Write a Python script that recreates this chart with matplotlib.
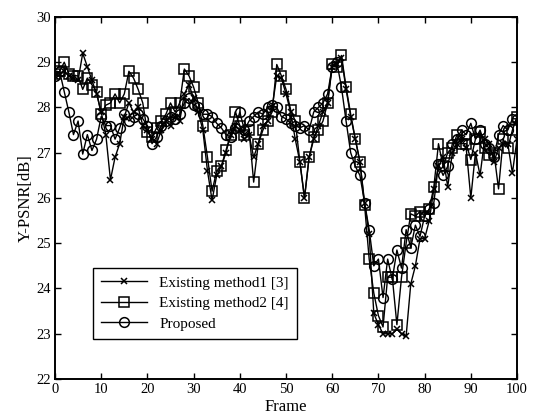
import matplotlib
matplotlib.use("Agg")
import matplotlib.pyplot as plt
import numpy as np

plt.rcParams["font.family"] = ["Liberation Serif", "DejaVu Serif"]
plt.rcParams["font.size"] = 10.5

frames = np.arange(0, 101)

# Existing method1 [3]
method1 = [
    28.7, 28.75, 28.8, 28.7, 28.65, 28.6, 29.2, 28.9, 28.6, 28.3,
    27.9, 27.4, 26.4, 26.9, 27.2, 27.8, 28.1, 27.9, 28.0, 27.6,
    27.5, 27.3, 27.2, 27.5, 27.7, 27.6, 27.8, 27.7, 28.3, 28.5,
    28.2, 27.9, 27.5, 26.6, 25.95, 26.5, 26.7, 27.0, 27.4, 27.6,
    27.5, 27.3, 27.4, 26.9, 27.2, 27.6, 27.7, 28.0, 28.7, 28.65,
    28.3, 27.9, 27.3, 26.8, 26.0, 26.9, 27.3, 27.6, 27.9, 28.1,
    28.9, 28.95, 29.1, 28.4, 27.8, 27.3, 26.8, 25.9, 25.2, 23.45,
    23.2, 23.0, 23.0, 23.0, 23.1, 23.0, 22.95, 24.1, 24.5, 25.1,
    25.1, 25.5, 26.2, 26.7, 26.9, 26.25, 27.0, 27.2, 27.3, 27.1,
    26.0, 27.0, 26.5, 27.3, 27.2, 26.8, 27.1, 27.2, 27.2, 26.55,
    27.3,
]

# Existing method2 [4]
method2 = [
    28.75, 28.8, 29.0, 28.75, 28.7, 28.7, 28.4, 28.65, 28.5, 28.35,
    27.85, 28.05, 28.1, 28.3, 28.1, 28.3, 28.8, 28.65, 28.4, 28.1,
    27.45, 27.35, 27.55, 27.7, 27.85, 28.1, 27.9, 28.1, 28.85, 28.7,
    28.45, 28.1, 27.6, 26.9, 26.15, 26.6, 26.7, 27.05, 27.4, 27.9,
    27.6, 27.4, 27.5, 26.35, 27.2, 27.5, 27.7, 27.9, 28.95, 28.7,
    28.4, 27.95, 27.7, 26.8, 26.0, 26.9, 27.35, 27.5, 27.7, 28.1,
    28.95, 28.9, 29.15, 28.45, 27.85, 27.3, 26.8, 25.85, 24.65, 23.9,
    23.4, 23.15, 24.25, 24.25, 23.2, 24.25, 25.0, 25.65, 25.6, 25.7,
    25.6, 25.75, 26.25, 27.2, 26.7, 27.0, 27.1, 27.4, 27.2, 27.2,
    26.85, 27.3, 27.45, 27.1, 26.95, 27.0, 26.2, 27.3, 27.1, 27.5,
    27.8,
]

# Proposed
proposed = [
    28.7, 28.8, 28.35, 27.9, 27.4, 27.7, 26.97, 27.4, 27.05, 27.3,
    27.8, 27.6, 27.6, 27.3, 27.55, 27.85, 27.7, 27.8, 27.85, 27.75,
    27.6, 27.2, 27.35, 27.6, 27.7, 27.8, 27.75, 27.85, 28.1, 28.2,
    28.05, 28.0, 27.85, 27.85, 27.8, 27.65, 27.55, 27.4, 27.35, 27.55,
    27.9, 27.5, 27.7, 27.8, 27.9, 27.85, 28.0, 28.05, 28.0, 27.8,
    27.75, 27.65, 27.6, 27.55, 27.6, 27.5, 27.9, 28.0, 28.1, 28.3,
    28.9, 29.0, 28.45, 27.7, 27.0, 26.7, 26.5, 25.9, 25.3, 24.5,
    24.65, 23.8, 24.65, 24.2, 24.85, 24.45, 25.3, 24.9, 25.4, 25.15,
    25.6, 25.75, 25.9, 26.75, 26.5, 26.7, 27.2, 27.3, 27.5, 27.4,
    27.65, 27.3, 27.5, 27.2, 27.1, 26.9, 27.4, 27.6, 27.5, 27.75,
    27.75,
]

fig = plt.figure(figsize=(5.36, 4.2), dpi=100)
ax = fig.add_axes([0.1026, 0.0976, 0.862, 0.862])

ax.plot(frames, method1, color="black", lw=1.0, marker="x", ms=4, mew=1.1,
        label="Existing method1 [3]")
ax.plot(frames, method2, color="black", lw=1.0, marker="s", ms=7, mew=1.1,
        mfc="none", label="Existing method2 [4]")
ax.plot(frames, proposed, color="black", lw=1.0, marker="o", ms=7, mew=1.1,
        mfc="none", label="Proposed")

ax.set_xlim(0, 100)
ax.set_ylim(22, 30)
ax.set_xticks(range(0, 101, 10))
ax.set_yticks(range(22, 31))
ax.tick_params(direction="in", top=True, right=True, length=4, width=1, pad=3)
for s in ax.spines.values():
    s.set_linewidth(1.4)

ax.set_xlabel("Frame", fontsize=12, labelpad=2)
ax.set_ylabel("Y-PSNR[dB]", fontsize=12, labelpad=2)

leg = ax.legend(loc="lower left", bbox_to_anchor=(0.082, 0.11), borderaxespad=0,
                fancybox=False, framealpha=1, edgecolor="black",
                handlelength=3.0, fontsize=11, labelspacing=0.45,
                borderpad=0.55)
leg.get_frame().set_linewidth(1.0)

fig.savefig("out.png", dpi=100)
